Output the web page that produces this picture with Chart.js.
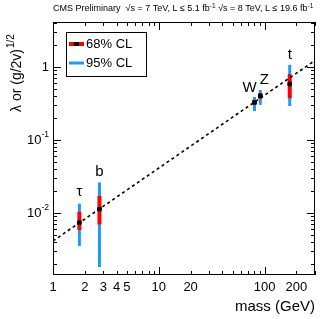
<!DOCTYPE html>
<html>
<head>
<meta charset="utf-8">
<script src="https://cdn.jsdelivr.net/npm/chart.js@4.4.1/dist/chart.umd.min.js"></script>
<style>
  html, body { margin: 0; padding: 0; background: #fff; }
  canvas { display: block; }
</style>
</head>
<body>
<canvas id="c" width="332" height="319"></canvas>
<script>
'use strict';

/* Hiukkaset ja arvot */
const particles = ['τ', 'b', 'W', 'Z', 't'];
const masses    = [1.777, 2.75, 80.4, 91.2, 173];
const centers   = [0.0073, 0.0112, 0.325, 0.40, 0.58];
const lo68      = [0.0058, 0.0069, 0.30, 0.36, 0.37];
const hi68      = [0.0103, 0.0170, 0.35, 0.436, 0.79];
const lo95      = [0.0035, 0.0018, 0.247, 0.30, 0.29];
const hi95      = [0.0133, 0.026, 0.385, 0.48, 1.06];

/* SM-ennusteviiva (päätepisteet) */
const lineX = [1, 300];
const lineY = [0.0041, 1.22];

/* Akselit */
const xMin = 1, xMax = 300;
const yMin = 0.0014, yMax = 4.1;
const xLabelTicks = [1, 2, 3, 4, 5, 10, 20, 100, 200];
const xMajor = [1, 10, 100];
const xMinor = [2, 3, 4, 5, 6, 7, 8, 9, 20, 30, 40, 50, 60, 70, 80, 90, 200, 300];
const yMajor = [0.01, 0.1, 1];
const yMinor = [0.002, 0.003, 0.004, 0.005, 0.006, 0.007, 0.008, 0.009,
                0.02, 0.03, 0.04, 0.05, 0.06, 0.07, 0.08, 0.09,
                0.2, 0.3, 0.4, 0.5, 0.6, 0.7, 0.8, 0.9, 2, 3, 4];
const yLabels = [[1, '1', ''], [0.1, '10', '-1'], [0.01, '10', '-2']];

const RED  = '#ff0000';
const BLUE = '#1a9cff';
const FONT = '"Liberation Sans", Arial, sans-serif';

const datasets = [];
masses.forEach((m, i) => {
  datasets.push({
    data: [{ x: m, y: lo95[i] }, { x: m, y: hi95[i] }],
    borderColor: BLUE, borderWidth: 3, pointRadius: 0, order: 3,
  });
  datasets.push({
    data: [{ x: m, y: lo68[i] }, { x: m, y: hi68[i] }],
    borderColor: RED, borderWidth: 4, pointRadius: 0, order: 2,
  });
});
datasets.push({
  data: masses.map((m, i) => ({ x: m, y: centers[i] })),
  showLine: false, pointStyle: 'rect', pointRadius: 2.5,
  backgroundColor: '#000', borderColor: '#000', order: 1,
});
datasets.push({
  data: lineX.map((x, i) => ({ x, y: lineY[i] })),
  borderColor: '#000', borderWidth: 1.6, borderDash: [3, 3],
  pointRadius: 0, order: 0,
});

/* Kehys, tikit, tekstit */
const decor = {
  id: 'decor',
  afterDatasetsDraw(chart) {
    const { ctx, chartArea: a, scales: { x, y } } = chart;
    ctx.save();
    ctx.strokeStyle = '#000';
    ctx.lineWidth = 1;
    ctx.strokeRect(a.left + 0.5, a.top + 0.5, a.right - a.left - 1, a.bottom - a.top - 1);

    const tickX = (v, len) => {
      const px = Math.round(x.getPixelForValue(v)) + 0.5;
      ctx.beginPath();
      ctx.moveTo(px, a.bottom); ctx.lineTo(px, a.bottom - len);
      ctx.moveTo(px, a.top);    ctx.lineTo(px, a.top + len);
      ctx.stroke();
    };
    const tickY = (v, len) => {
      const py = Math.round(y.getPixelForValue(v)) + 0.5;
      ctx.beginPath();
      ctx.moveTo(a.left, py);  ctx.lineTo(a.left + len, py);
      ctx.moveTo(a.right, py); ctx.lineTo(a.right - len, py);
      ctx.stroke();
    };
    xMajor.forEach(v => tickX(v, 8));
    xMinor.forEach(v => tickX(v, 4));
    yMajor.forEach(v => tickY(v, 8));
    yMinor.forEach(v => tickY(v, 4));

    ctx.fillStyle = '#000';
    /* x-tikkien tekstit */
    ctx.font = '13px ' + FONT;
    ctx.textAlign = 'center';
    ctx.textBaseline = 'top';
    xLabelTicks.forEach(v => ctx.fillText(String(v), x.getPixelForValue(v), a.bottom + 6));

    /* y-tikkien tekstit */
    ctx.textBaseline = 'middle';
    yLabels.forEach(([v, base, sup]) => {
      const py = y.getPixelForValue(v);
      ctx.font = '8.5px ' + FONT;
      const sw = sup ? ctx.measureText(sup).width : 0;
      ctx.font = '13px ' + FONT;
      ctx.textAlign = 'right';
      ctx.fillText(base, a.left - 4 - sw, py + 1);
      if (sup) {
        ctx.font = '8.5px ' + FONT;
        ctx.textAlign = 'left';
        ctx.fillText(sup, a.left - 4 - sw, py - 5);
      }
    });

    /* akselien otsikot */
    ctx.font = '15px ' + FONT;
    ctx.textAlign = 'right';
    ctx.textBaseline = 'alphabetic';
    ctx.fillText('mass (GeV)', a.right, 311);

    ctx.save();
    ctx.translate(21, 112);
    ctx.rotate(-Math.PI / 2);
    ctx.textAlign = 'left';
    ctx.font = '14px ' + FONT;
    const t1 = 'λ or (g/2v)';
    ctx.fillText(t1, 0, 0);
    const w1 = ctx.measureText(t1).width;
    ctx.font = '10px ' + FONT;
    ctx.fillText('1/2', w1 + 1, -7);
    ctx.restore();

    /* yläteksti */
    ctx.textAlign = 'left';
    ctx.textBaseline = 'alphabetic';
    let cx = 53;
    const put = (s, dy = 0, f = '9px ') => {
      ctx.font = f + FONT;
      ctx.fillText(s, cx, 11 + dy);
      cx += ctx.measureText(s).width;
    };
    put('CMS Preliminary  ');
    put('√s = 7 TeV, L ≤ 5.1 fb');
    put('-1', -3, '6.5px ');
    put(' √s = 8 TeV, L ≤ 19.6 fb');
    put('-1', -3, '6.5px ');

    /* hiukkasten nimet */
    ctx.font = '15px ' + FONT;
    ctx.textAlign = 'center';
    ctx.textBaseline = 'middle';
    const lab = [[0, 0, -12], [1, 0, -11], [2, -5, -9], [3, 4, -10], [4, 0, -10]];
    lab.forEach(([i, dx, dy]) => {
      ctx.fillText(particles[i], x.getPixelForValue(masses[i]) + dx,
        y.getPixelForValue(hi95[i]) + dy);
    });

    /* selite */
    const lx = 66, ly = 32, lw = 80, lh = 44;
    ctx.fillStyle = '#fff';
    ctx.fillRect(lx, ly, lw, lh);
    ctx.strokeRect(lx + 0.5, ly + 0.5, lw, lh);
    ctx.lineWidth = 4;
    ctx.strokeStyle = RED;
    ctx.beginPath(); ctx.moveTo(69, 44); ctx.lineTo(84, 44); ctx.stroke();
    ctx.fillStyle = '#000';
    ctx.fillRect(74, 42, 5, 4);
    ctx.lineWidth = 3;
    ctx.strokeStyle = BLUE;
    ctx.beginPath(); ctx.moveTo(69, 63); ctx.lineTo(84, 63); ctx.stroke();
    ctx.font = '13px ' + FONT;
    ctx.textAlign = 'left';
    ctx.fillText('68% CL', 86, 44);
    ctx.fillText('95% CL', 86, 63);
    ctx.restore();
  },
};

new Chart(document.getElementById('c'), {
  type: 'line',
  data: { datasets },
  options: {
    responsive: false,
    animation: false,
    layout: { padding: { left: 53, right: 17, top: 22, bottom: 44 } },
    plugins: { legend: { display: false }, tooltip: { enabled: false } },
    scales: {
      x: { type: 'logarithmic', min: xMin, max: xMax, display: false },
      y: { type: 'logarithmic', min: yMin, max: yMax, display: false },
    },
  },
  plugins: [decor],
});
</script>
</body>
</html>
